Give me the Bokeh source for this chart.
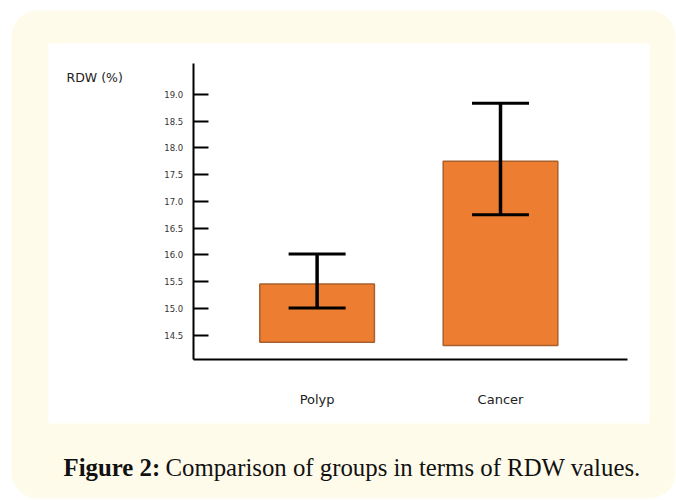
from bokeh.plotting import figure
from bokeh.models import (Range1d, LinearAxis, FixedTicker, NumeralTickFormatter,
                          ColumnDataSource, Whisker, TeeHead, Label)
from bokeh.embed import file_html
from bokeh.resources import INLINE
from bokeh.core.properties import value

# ---- data ----
categories = ["Polyp", "Cancer"]
means = [15.46, 17.75]
bar_base = [14.37, 14.31]
err_lower = [15.01, 16.75]
err_upper = [16.02, 18.83]
y_ticks = [14.5, 15.0, 15.5, 16.0, 16.5, 17.0, 17.5, 18.0, 18.5, 19.0]
y_title = "RDW (%)"
caption_bold = "Figure 2:"
caption_text = "Comparison of groups in terms of RDW values."

W, H = 676, 500

p = figure(width=W, height=H, output_backend="svg", toolbar_location=None,
           x_range=Range1d(0, W), y_range=Range1d(H, 0), min_border=0,
           x_axis_type=None, y_axis_type=None)
p.outline_line_color = None
p.grid.visible = False
p.background_fill_color = "white"
p.border_fill_color = "white"

# data ranges (category index / RDW value) laid over the canvas
p.extra_x_ranges = {"cat": Range1d(-1.7263, (W - 316.6) / 183.4)}
p.extra_y_ranges = {"rdw": Range1d(16.75 - (H - 214.27) / 53.58, 20.749)}

# ---- decorative frame: cream rounded box + white panel ----
p.quad(left=11, right=675, top=10, bottom=498, fill_color="#FFFBEA",
       line_color=None, border_radius=26)
p.quad(left=48, right=649, top=43, bottom=423, fill_color="white", line_color=None)

# ---- bars ----
idx = list(range(len(categories)))
src = ColumnDataSource(dict(x=idx, top=means, bottom=bar_base,
                            lower=err_lower, upper=err_upper))
p.vbar(x="x", top="top", bottom="bottom", width=0.625, source=src,
       fill_color="#ED7D31", line_color="#A8612E", line_width=1.5,
       x_range_name="cat", y_range_name="rdw")

wh = Whisker(base="x", lower="lower", upper="upper", source=src, dimension="height",
             line_color="black", line_width=3.5, level="annotation",
             upper_head=TeeHead(size=57, line_width=3, line_color="black"),
             lower_head=TeeHead(size=57, line_width=3, line_color="black"),
             x_range_name="cat", y_range_name="rdw")
p.add_layout(wh)

# ---- axes ----
yaxis = LinearAxis(x_range_name="cat", y_range_name="rdw", fixed_location=-0.6756,
                   ticker=FixedTicker(ticks=y_ticks),
                   formatter=NumeralTickFormatter(format="0.0"),
                   bounds=(14.05, 19.57))
yaxis.axis_line_color = "black"
yaxis.axis_line_width = 2
yaxis.major_tick_in = 15
yaxis.major_tick_out = 0
yaxis.major_tick_line_width = 2
yaxis.major_tick_line_color = "black"
yaxis.minor_tick_line_color = None
yaxis.major_label_standoff = 10
yaxis.major_label_text_font = "DejaVu Sans"
yaxis.major_label_text_font_size = "8.5px"
yaxis.major_label_text_color = "#333333"
p.add_layout(yaxis, "left")

xaxis = LinearAxis(x_range_name="cat", y_range_name="rdw", fixed_location=14.05,
                   ticker=FixedTicker(ticks=idx),
                   major_label_overrides={i: c for i, c in zip(idx, categories)},
                   bounds=(-0.6756, 1.691))
xaxis.axis_line_color = "black"
xaxis.axis_line_width = 2
xaxis.major_tick_in = 0
xaxis.major_tick_out = 0
xaxis.minor_tick_line_color = None
xaxis.major_label_standoff = 33
xaxis.major_label_text_font = "DejaVu Sans"
xaxis.major_label_text_font_size = "13px"
xaxis.major_label_text_color = "#222222"
p.add_layout(xaxis, "below")

# ---- texts ----
p.add_layout(Label(x=66, y=77, text=y_title, text_font="DejaVu Sans",
                   text_font_size="12.5px", text_color="#222222",
                   text_baseline="middle", text_align="left"))

p.text(x=[63], y=[467], text=[caption_bold], text_font=value("Liberation Serif"),
       text_font_size="24.8px", text_font_style="bold", text_color="#111111",
       text_baseline="alphabetic", text_align="left")
p.text(x=[165], y=[467], text=[caption_text], text_font=value("Liberation Serif"),
       text_font_size="24.8px", text_color="#111111",
       text_baseline="alphabetic", text_align="left")

open("out.html", "w").write(file_html(p, INLINE))
